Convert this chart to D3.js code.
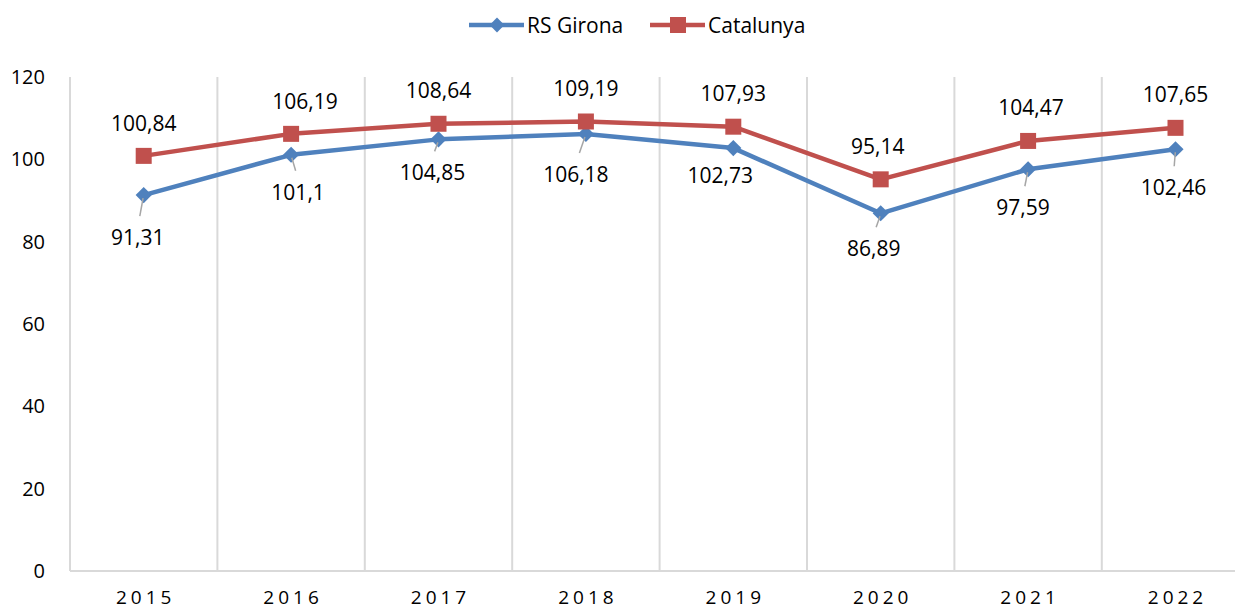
<!DOCTYPE html>
<html><head><meta charset="utf-8">
<script src="https://cdn.jsdelivr.net/npm/d3@7"></script>
<style>body{margin:0;background:#fff}svg{display:block}text{font-family:"Open Sans",sans-serif;fill:#000}</style>
</head><body><svg id="c" width="1235" height="613"></svg>
<script>
const years = ["2015","2016","2017","2018","2019","2020","2021","2022"];
const girona = [91.31,101.1,104.85,106.18,102.73,86.89,97.59,102.46];
const catalunya = [100.84,106.19,108.64,109.19,107.93,95.14,104.47,107.65];
const girLabels = ["91,31","101,1","104,85","106,18","102,73","86,89","97,59","102,46"];
const catLabels = ["100,84","106,19","108,64","109,19","107,93","95,14","104,47","107,65"];
const yTicks = [0,20,40,60,80,100,120];

// label placement (presentation)
const girOff = [[-6,42],[7,37],[-6,33],[-10,40],[-13,27],[-7,35],[-5,38],[-2,38]];
const girLeader = [true,true,true,true,false,true,true,true];
const catOff = [[0,-33],[14,-33],[0,-34],[0,-34],[0,-34],[-3,-33],[3,-34],[0,-34]];

const svg = d3.select("#c");
const mLeft=70, mTop=77, mBottom=571, bandW=147.4;
const x = d3.scaleBand().domain(years).range([mLeft, mLeft+bandW*years.length]).paddingInner(0).paddingOuter(0);
const y = d3.scaleLinear().domain([0,120]).range([mBottom, mTop]);
const cx = d => x(d)+x.bandwidth()/2;

const g = svg.append("g");
years.forEach((yr,i)=>{
  const xx = x(yr);
  g.append("line").attr("x1",xx).attr("x2",xx).attr("y1",mTop).attr("y2",mBottom)
    .attr("stroke","#d9d9d9").attr("stroke-width",2);
});
g.append("line").attr("x1",mLeft).attr("x2",1235).attr("y1",mBottom).attr("y2",mBottom)
  .attr("stroke","#d9d9d9").attr("stroke-width",2);

const ya = svg.append("g").attr("transform",`translate(${mLeft-25},0)`)
  .call(d3.axisLeft(y).tickValues(yTicks).tickSize(0).tickPadding(0));
ya.select(".domain").remove();
ya.selectAll("text").style("font-size","20px").style("font-family","'Open Sans',sans-serif").attr("fill","#000");

const xa = svg.append("g").attr("transform",`translate(0,${mBottom})`)
  .call(d3.axisBottom(x).tickSize(0).tickPadding(20));
xa.select(".domain").remove();
xa.selectAll("text").style("font-size","19px").style("font-family","'Open Sans',sans-serif")
  .style("letter-spacing","4px").attr("fill","#000").attr("dx","2px");

const line = d3.line().x((d,i)=>cx(years[i])).y(d=>y(d));
const blue="#4F81BD", red="#C0504D";

svg.append("path").datum(girona).attr("d",line).attr("fill","none").attr("stroke",blue).attr("stroke-width",4.5).attr("stroke-linejoin","round");
svg.append("path").datum(catalunya).attr("d",line).attr("fill","none").attr("stroke",red).attr("stroke-width",4.5).attr("stroke-linejoin","round");

svg.append("g").selectAll("path").data(girona).join("path")
  .attr("d", d3.symbol().type(d3.symbolSquare).size(130))
  .attr("transform",(d,i)=>`translate(${cx(years[i])},${y(d)}) rotate(45)`).attr("fill",blue);
svg.append("g").selectAll("rect").data(catalunya).join("rect")
  .attr("x",(d,i)=>cx(years[i])-8).attr("y",d=>y(d)-8).attr("width",16).attr("height",16).attr("fill",red);

girona.forEach((v,i)=>{
  const px=cx(years[i]), py=y(v);
  const lx=px+girOff[i][0], ly=py+girOff[i][1];
  if(girLeader[i]){
    const ex = lx + (px-lx)*0.35, ey = ly-21;
    svg.append("line").attr("x1",px-(px-lx)*0.1).attr("y1",py+3).attr("x2",ex).attr("y2",ey)
      .attr("stroke","#a6a6a6").attr("stroke-width",1.5);
  }
  svg.append("text").attr("x",lx).attr("y",ly).attr("text-anchor","middle").attr("dominant-baseline","central")
    .style("font-size","21px").text(girLabels[i]);
});
catalunya.forEach((v,i)=>{
  svg.append("text").attr("x",cx(years[i])+catOff[i][0]).attr("y",y(v)+catOff[i][1]).attr("text-anchor","middle").attr("dominant-baseline","central")
    .style("font-size","21px").text(catLabels[i]);
});

const lg = svg.append("g");
const legendItems = [{name:"RS Girona",c:blue,x:469,shape:"d"},{name:"Catalunya",c:red,x:650,shape:"s"}];
legendItems.forEach(it=>{
  lg.append("line").attr("x1",it.x).attr("x2",it.x+55).attr("y1",25).attr("y2",25).attr("stroke",it.c).attr("stroke-width",4.5);
  if(it.shape==="d") lg.append("path").attr("d",d3.symbol().type(d3.symbolSquare).size(110)()).attr("transform",`translate(${it.x+28},25) rotate(45)`).attr("fill",it.c);
  else lg.append("rect").attr("x",it.x+28-8).attr("y",17).attr("width",16).attr("height",16).attr("fill",it.c);
  lg.append("text").attr("x",it.x+58).attr("y",25).attr("dominant-baseline","central").style("font-size","21px").text(it.name);
});
</script></body></html>
